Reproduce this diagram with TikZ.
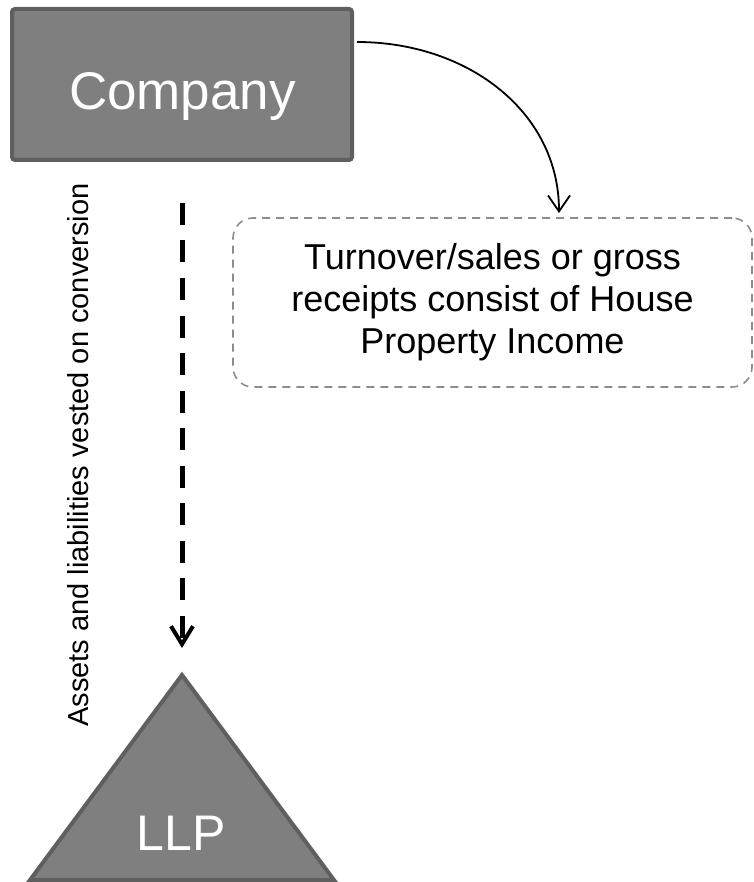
\documentclass[tikz,border=0pt]{standalone}
\usepackage{fontspec}
\setmainfont{Liberation Sans}
\usetikzlibrary{arrows.meta}
\definecolor{entityfill}{HTML}{7F7F7F}
\definecolor{entityline}{HTML}{5F5F5F}
\definecolor{noteline}{HTML}{8C8C8C}
\begin{document}
\begin{tikzpicture}[x=1pt,y=-1pt,
  entity/.style={fill=entityfill,draw=entityline,line width=4pt},
  entitytext/.style={text=white,inner sep=0pt,anchor=base},
  notebox/.style={draw=noteline,line width=1.6pt,dash pattern=on 8pt off 6pt,
    rounded corners=20pt,align=center,inner sep=0pt,
    font=\fontsize{36}{42}\selectfont},
  flowlabel/.style={rotate=90,anchor=base,inner sep=0pt,
    font=\fontsize{29}{34}\selectfont},
  transfer/.style={line width=5pt,dash pattern=on 22pt off 15.5pt,
    -{Straight Barb[length=18pt,width=22pt,line width=4pt]}},
  income/.style={line width=1.8pt,
    -{Straight Barb[length=16pt,width=22pt]}}
]
\useasboundingbox (0,0) rectangle (753,882);

% Company box
\node[entity,rounded corners=3pt,minimum width=340pt,minimum height=151pt,
  inner sep=0pt] (company) at (182,84.5) {};
\node[entitytext,font=\fontsize{53}{60}\selectfont] (companytext) at (182.5,110) {Company};

% LLP triangle
\draw[entity] (182,675) -- (30,880) -- (334,880) -- cycle;
\node[entitytext,font=\fontsize{50}{58}\selectfont] (llptext) at (181,850) {LLP};

% Note on the nature of turnover
\node[notebox,minimum width=519pt,minimum height=169pt] (note) at (492.5,302.5)
  {Turnover/sales or gross\\receipts consist of House\\Property Income};

% Connector end points
\coordinate (incomestart) at (357,42);
\coordinate (incomeend) at (559,213);
\coordinate (transferstart) at (182,203);
\coordinate (transferend) at (182,648);

% Connectors
\draw[income] (incomestart) .. controls (468,42) and (559,112) .. (incomeend);
\draw[transfer] (transferstart) -- (transferend);

% Label of the transfer arrow
\node[flowlabel] (transferlabel) at (88.5,455) {Assets and liabilities vested on conversion};
\end{tikzpicture}
\end{document}
